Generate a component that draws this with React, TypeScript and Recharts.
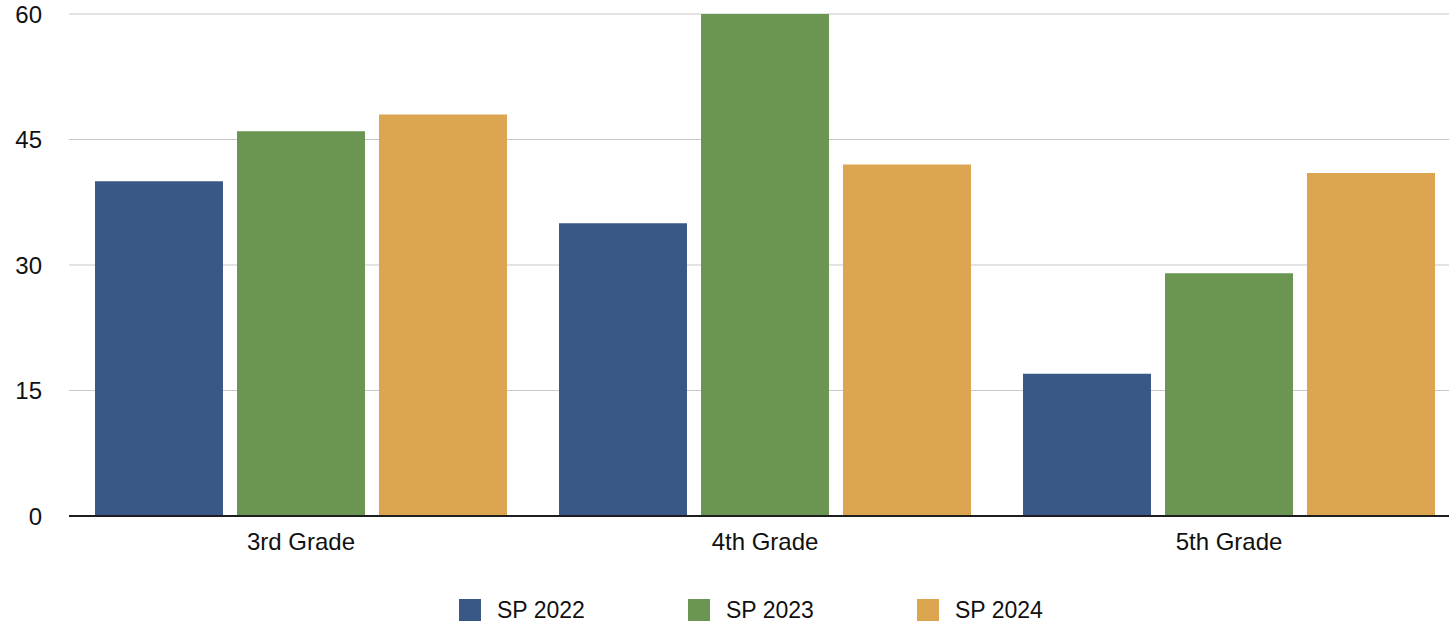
import React from "react";
import { BarChart, Bar, XAxis, YAxis, CartesianGrid, Legend } from "recharts";

const grades = ["3rd Grade", "4th Grade", "5th Grade"];
const sp2022 = [40, 35, 17];
const sp2023 = [46, 60, 29];
const sp2024 = [48, 42, 41];
const yTicks = [0, 15, 30, 45, 60];

const seriesNames = ["SP 2022", "SP 2023", "SP 2024"];
const seriesColors = ["#3A5886", "#6A9651", "#DCA550"];

const data = grades.map((g, i) => ({
  grade: g,
  "SP 2022": sp2022[i],
  "SP 2023": sp2023[i],
  "SP 2024": sp2024[i],
}));

const font = '"Liberation Sans", Arial, Helvetica, sans-serif';

const LegendBox = () => (
  <div style={{ height: 70, paddingTop: 43, boxSizing: "border-box", display: "flex", paddingLeft: 459 }}>
    {seriesNames.map((n, i) => (
      <div key={n} style={{ width: 229, height: 22, display: "flex", alignItems: "center" }}>
        <span style={{ width: 22, height: 22, background: seriesColors[i], display: "inline-block" }} />
        <span style={{ marginLeft: 16, fontSize: 23, fontFamily: font, color: "#111", lineHeight: "22px" }}>{n}</span>
      </div>
    ))}
  </div>
);

export default function App() {
  return (
    <div style={{ position: "fixed", left: 0, top: 0, width: 1449, height: 626, overflow: "hidden", background: "#fff" }}>
      <BarChart
        width={1461}
        height={626}
        data={data}
        margin={{ top: 14, right: 0, bottom: 0, left: 0 }}
        barCategoryGap={26}
        barGap={14}
      >
        <CartesianGrid vertical={false} stroke="#c8c8c8" strokeWidth={1} />
        <XAxis
          dataKey="grade"
          height={40}
          tickLine={false}
          tickSize={0}
          tickMargin={17}
          axisLine={{ stroke: "#1e1e1e", strokeWidth: 2 }}
          tick={{ fontSize: 24, fill: "#111", fontFamily: font }}
        />
        <YAxis
          width={69}
          domain={[0, 60]}
          ticks={yTicks}
          axisLine={false}
          tickLine={false}
          tickSize={0}
          tickMargin={27}
          tick={{ fontSize: 24, fill: "#111", fontFamily: font }}
        />
        <Legend verticalAlign="bottom" content={<LegendBox />} wrapperStyle={{ left: 0, width: 1461 }} />
        {seriesNames.map((n, i) => (
          <Bar key={n} dataKey={n} fill={seriesColors[i]} isAnimationActive={false} />
        ))}
      </BarChart>
    </div>
  );
}
